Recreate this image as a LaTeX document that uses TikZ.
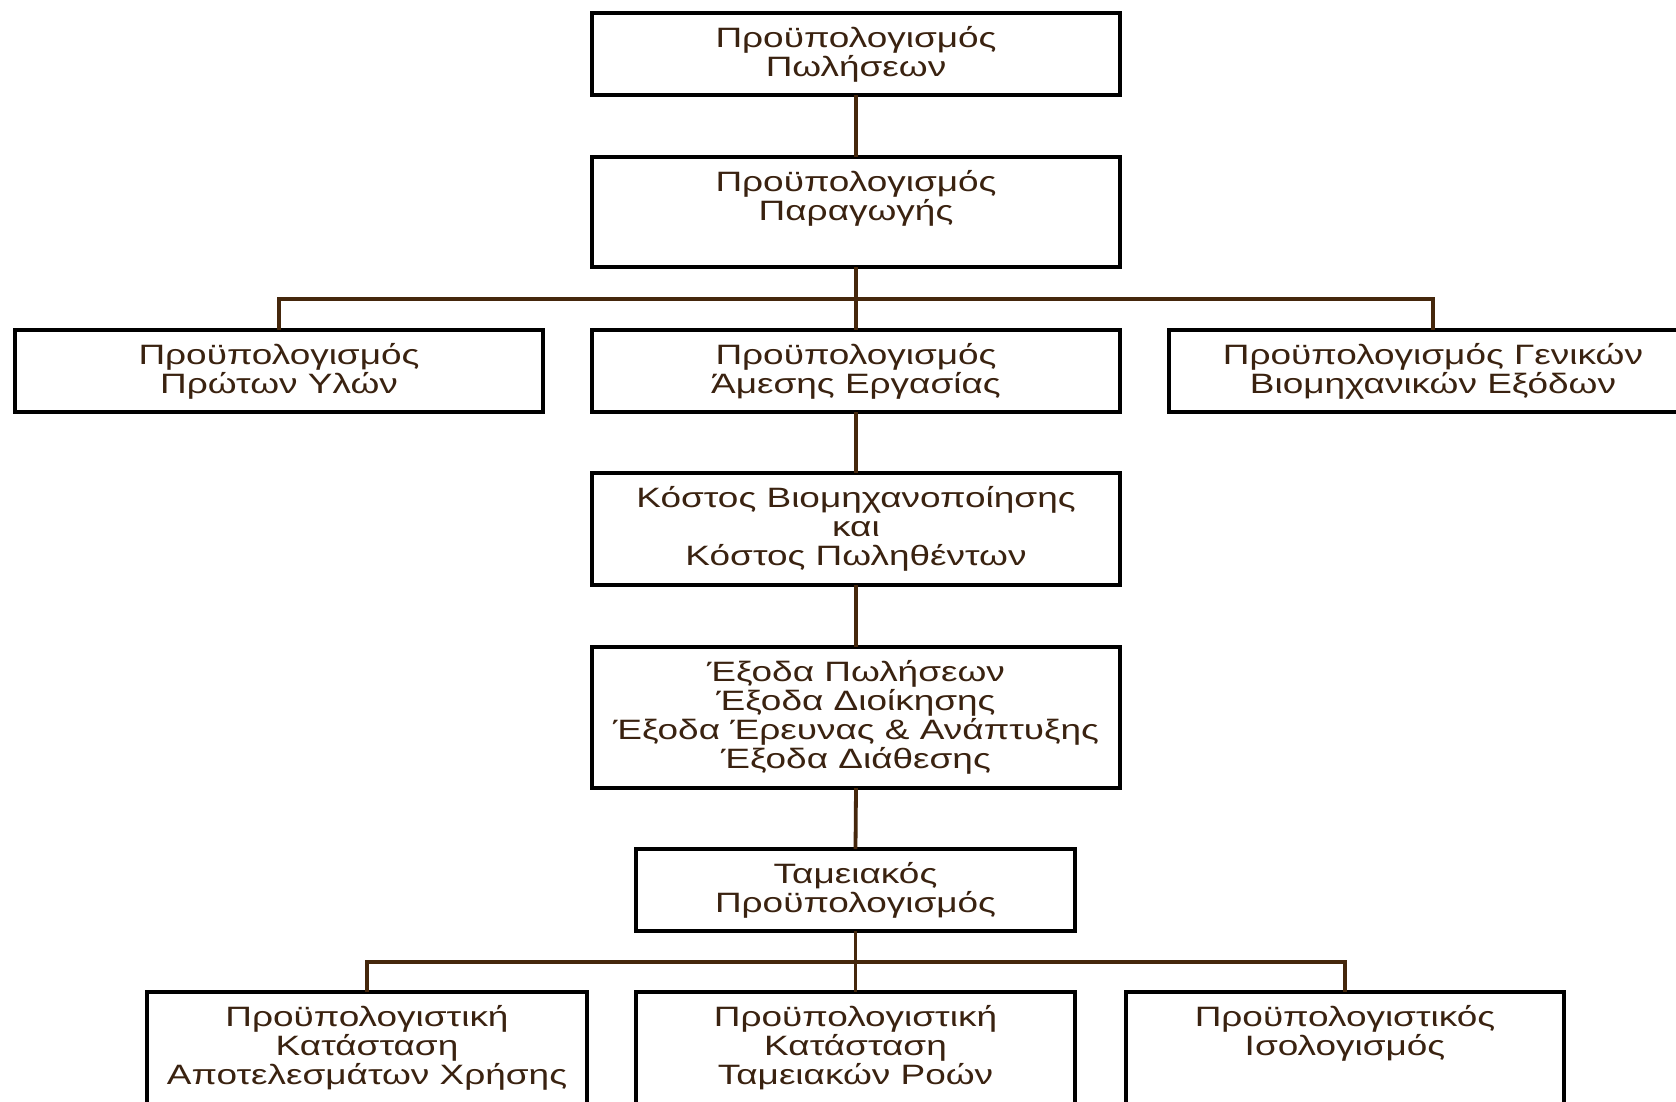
\documentclass[tikz,border=0pt]{standalone}
\usepackage{fontspec}
\setmainfont{Liberation Sans}[FakeStretch=1.32]
\definecolor{txtc}{HTML}{3A2210}
\definecolor{linec}{HTML}{45270C}
\newcommand{\bt}[3]{\parbox[c][#2pt][t]{#1pt}{\centering\fontsize{28}{29}\selectfont\lineskiplimit=-100pt\color{txtc}\rule{0pt}{34pt}#3\par}}
\tikzset{
  boxn/.style={draw=black, line width=3.5pt, inner sep=0pt, outer sep=0pt},
  conn/.style={draw=linec, line width=3.8pt}
}
\begin{document}
\begin{tikzpicture}[x=1pt,y=-1pt]
\clip (0,0) rectangle (1676,1101);
\fill[white] (0,0) rectangle (1676,1101);
\node[boxn] (b1) at (856,54) {\bt{528}{82}{Προϋπολογισμός\\Πωλήσεων}};
\node[boxn] (b2) at (856,212) {\bt{528}{110}{Προϋπολογισμός\\Παραγωγής}};
\node[boxn] (b3l) at (279,371) {\bt{528}{82}{Προϋπολογισμός\\Πρώτων Υλών}};
\node[boxn] (b3m) at (856,371) {\bt{528}{82}{Προϋπολογισμός\\Άμεσης Εργασίας}};
\node[boxn] (b3r) at (1433,371) {\bt{528}{82}{Προϋπολογισμός Γενικών\\Βιομηχανικών Εξόδων}};
\node[boxn] (b4) at (856,529) {\bt{528}{112}{Κόστος Βιομηχανοποίησης\\και\\Κόστος Πωληθέντων}};
\node[boxn] (b5) at (856,717.5) {\bt{528}{141}{Έξοδα Πωλήσεων\\Έξοδα Διοίκησης\\Έξοδα Έρευνας \& Ανάπτυξης\\Έξοδα Διάθεσης}};
\node[boxn] (b6) at (855.5,890) {\bt{439}{82}{Ταμειακός\\Προϋπολογισμός}};
\node[boxn] (b7l) at (367,1057) {\bt{440}{130}{Προϋπολογιστική\\Κατάσταση\\Αποτελεσμάτων Χρήσης}};
\node[boxn] (b7m) at (855.5,1057) {\bt{439}{130}{Προϋπολογιστική\\Κατάσταση\\Ταμειακών Ροών}};
\node[boxn] (b7r) at (1345,1057) {\bt{438}{130}{Προϋπολογιστικός\\Ισολογισμός}};
\coordinate (j1) at (856,299);
\coordinate (j2) at (856,962);
\draw[conn] (b1.south) -- (b2.north);
\draw[conn] (b2.south) -- (b3m.north);
\draw[conn] (b3l.north) |- (j1) -| (b3r.north);
\draw[conn] (b3m.south) -- (b4.north);
\draw[conn] (b4.south) -- (b5.north);
\draw[conn] (b5.south) -- (b6.north);
\draw[conn] (b6.south) -- (b7m.north);
\draw[conn] (b7l.north) |- (j2) -| (b7r.north);
\end{tikzpicture}
\end{document}
